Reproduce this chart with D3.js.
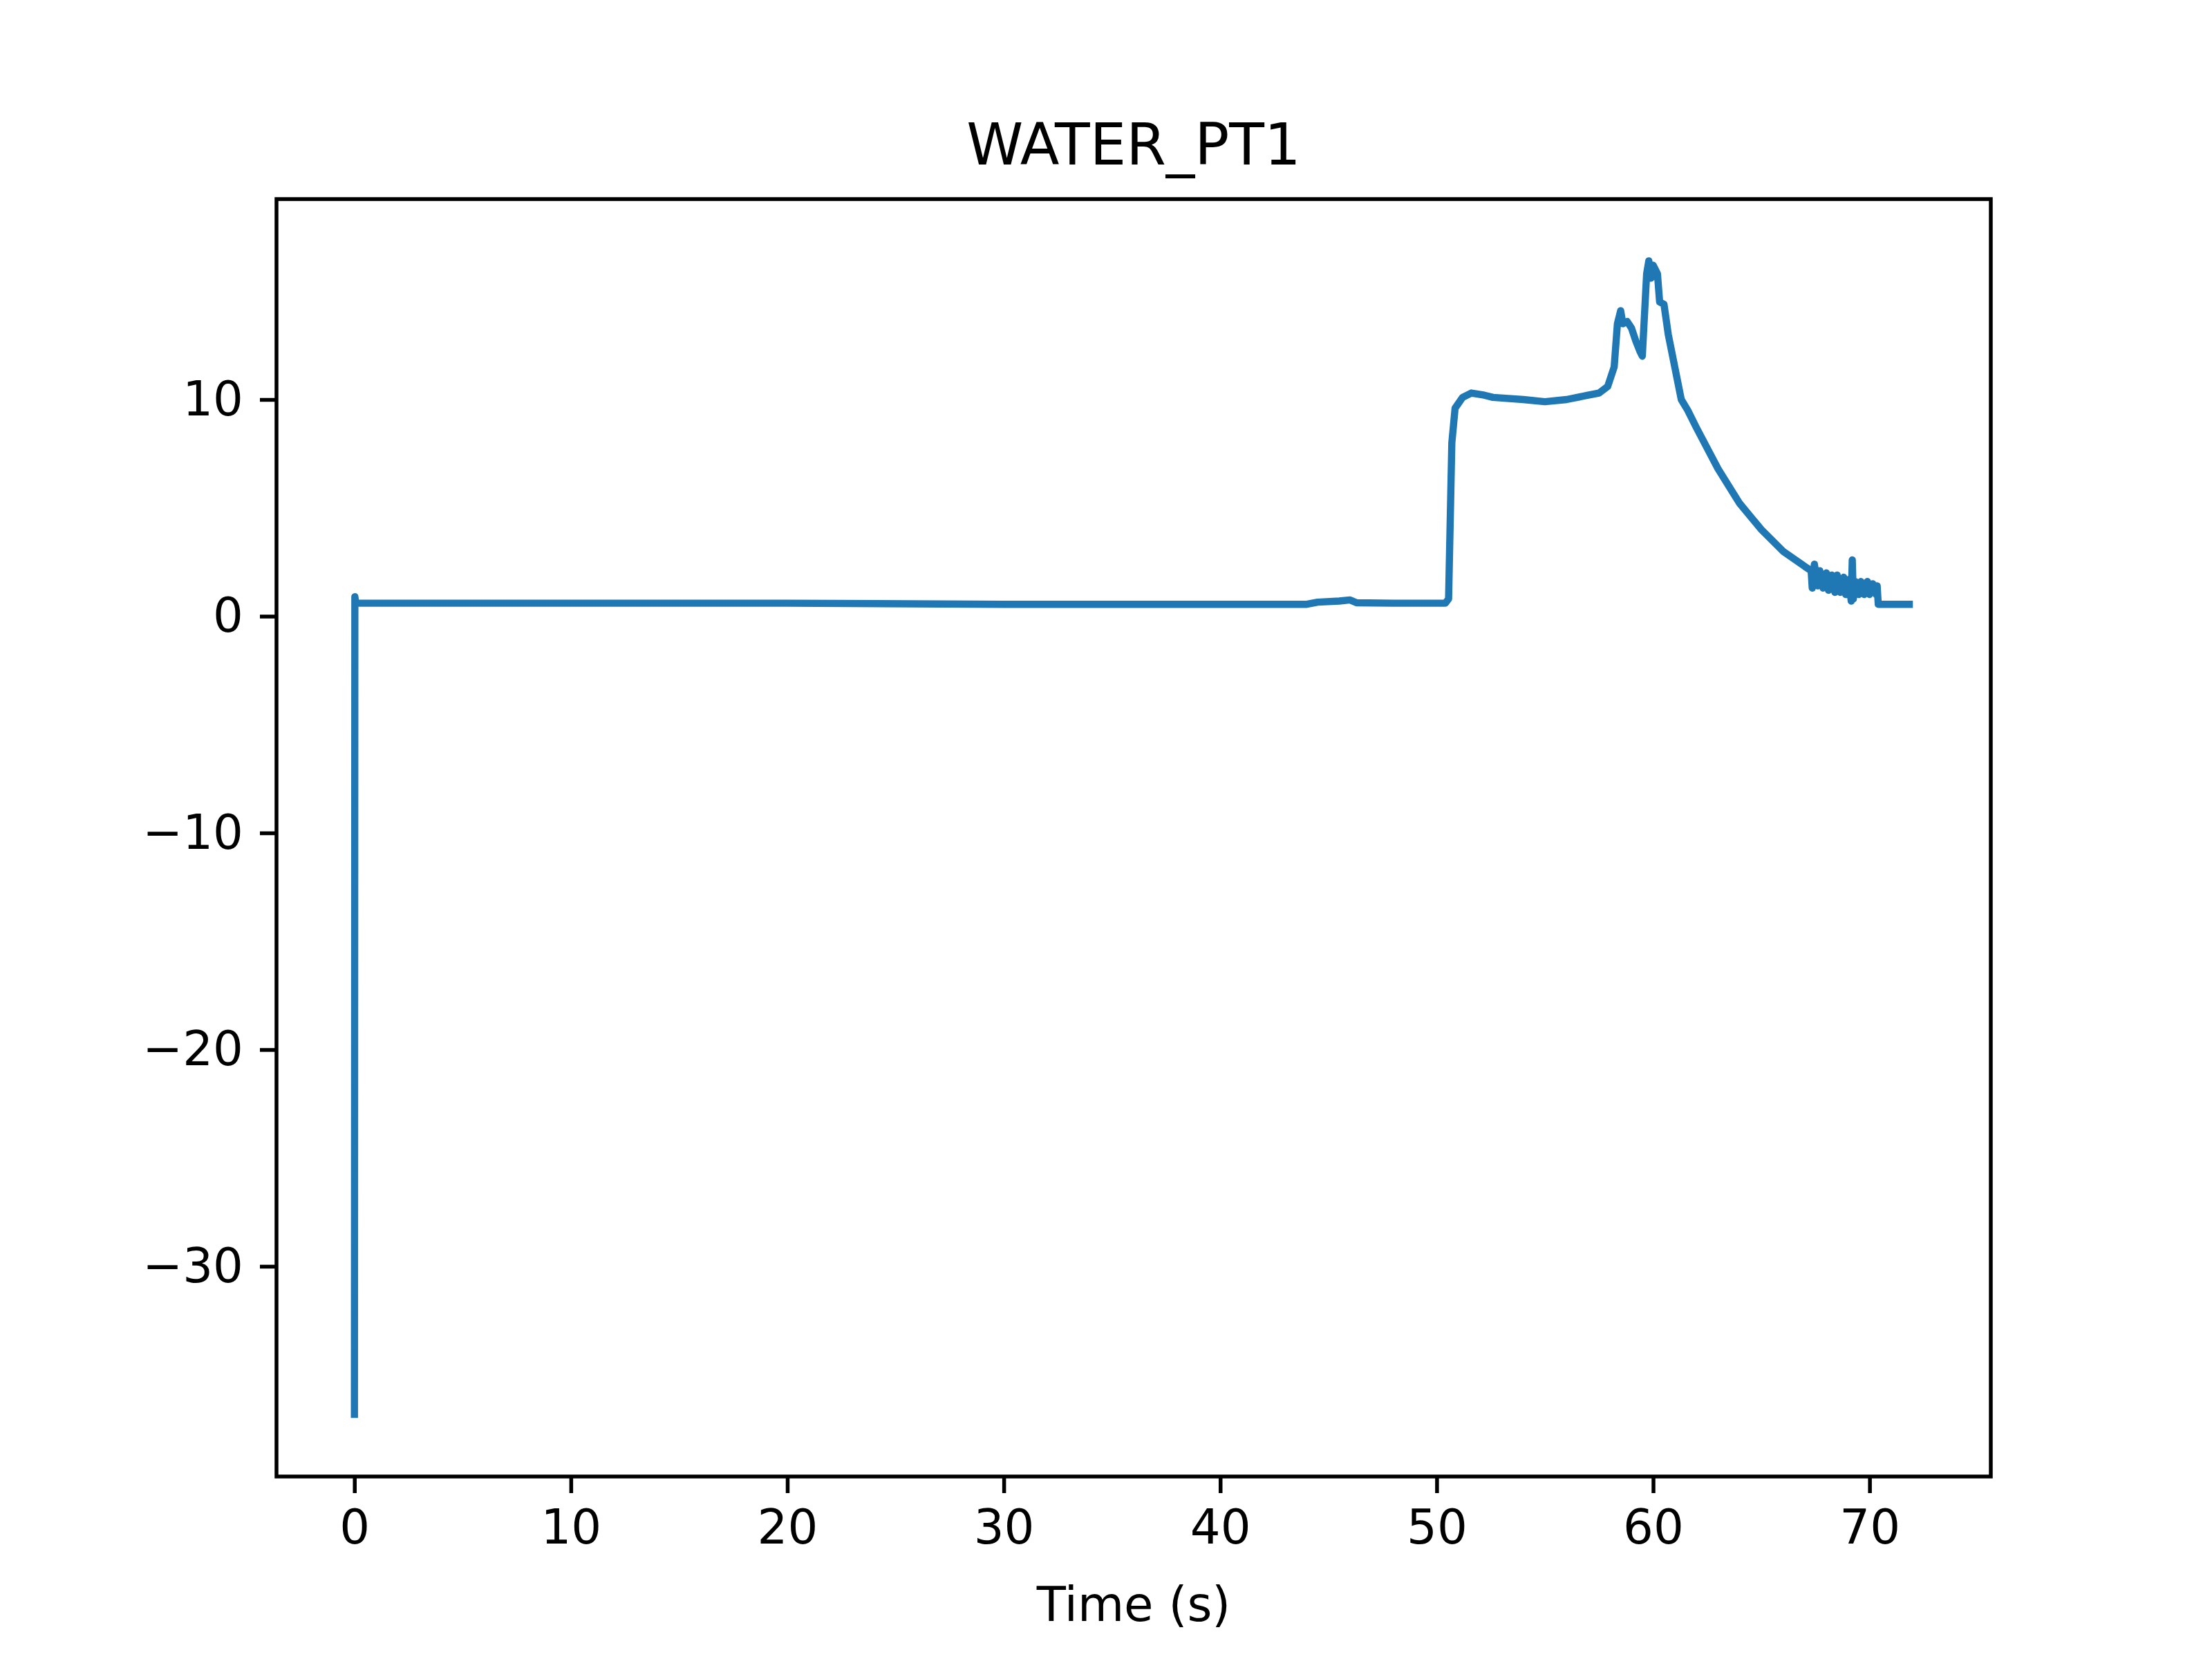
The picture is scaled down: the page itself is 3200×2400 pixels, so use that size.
<!DOCTYPE html>
<html><head><meta charset="utf-8">
<script src="https://cdn.jsdelivr.net/npm/d3@7"></script>
<style>body{margin:0;background:#fff}text{font-family:"DejaVu Sans",sans-serif}</style>
</head><body>
<script>
// time (s) and WATER_PT1 reading
var times = [0, 0.02, 0.06, 10, 20, 30, 40, 44, 44.5, 45.5, 46, 46.3, 48, 50.4, 50.55, 50.7, 50.85, 51.2, 51.6, 52.2, 52.6, 54, 55, 56, 57, 57.5, 57.9, 58.2, 58.35, 58.5, 58.6, 58.8, 59, 59.2, 59.4, 59.5, 59.7, 59.8, 59.9, 60.0, 60.2, 60.3, 60.5, 60.7, 61, 61.3, 61.6, 62, 63, 64, 65, 66, 67, 67.3,
  67.35, 67.45, 67.6, 67.7, 67.85, 68, 68.1, 68.25, 68.4, 68.5, 68.65, 68.8, 68.9, 69.05, 69.15, 69.2, 69.25, 69.35, 69.5, 69.6, 69.75, 69.9, 70.0, 70.15, 70.3, 70.35, 70.4, 72];
var values = [-37, 0.9, 0.6, 0.6, 0.6, 0.55, 0.55, 0.55, 0.65, 0.7, 0.75, 0.62, 0.6, 0.6, 0.8, 8, 9.6, 10.1, 10.3, 10.2, 10.1, 10.0, 9.9, 10.0, 10.2, 10.3, 10.6, 11.5, 13.5, 14.1, 13.5, 13.6, 13.3, 12.7, 12.2, 12.0, 15.8, 16.4, 15.6, 16.2, 15.8, 14.5, 14.4, 13.0, 11.5, 10.0, 9.5, 8.7, 6.8, 5.2, 4.0, 3.0, 2.3, 2.1,
  1.3, 2.4, 1.4, 2.1, 1.3, 2.0, 1.2, 1.9, 1.1, 1.9, 1.1, 1.8, 1.0, 1.7, 0.7, 2.6, 0.8, 1.6, 1.0, 1.6, 1.0, 1.6, 1.0, 1.5, 1.0, 1.4, 0.55, 0.55];
var xTicks = [0, 10, 20, 30, 40, 50, 60, 70];
var yTicks = [-30, -20, -10, 0, 10];

var W = 3200, H = 2400, L = 400, R = 2880, T = 288, B = 2136;
var svg = d3.select("body").append("svg").attr("width", W).attr("height", H);
var x = d3.scaleLinear().domain([-3.6, 75.6]).range([L, R]);
var y = d3.scaleLinear().domain([-39.7, 19.25]).range([B, T]);

svg.append("path")
    .datum(d3.zip(times, values))
    .attr("fill", "none")
    .attr("stroke", "#1f77b4")
    .attr("stroke-width", 10.4)
    .attr("stroke-linejoin", "round")
    .attr("d", d3.line().x(function (d) { return x(d[0]); }).y(function (d) { return y(d[1]); }));

var fmt = function (d) { return d < 0 ? "\u2212" + Math.abs(d) : d; };
var gx = svg.append("g").attr("transform", "translate(0," + B + ")")
    .call(d3.axisBottom(x).tickValues(xTicks).tickSize(24).tickPadding(24).tickFormat(fmt));
var gy = svg.append("g").attr("transform", "translate(" + L + ",0)")
    .call(d3.axisLeft(y).tickValues(yTicks).tickSize(24).tickPadding(24).tickFormat(fmt));
[gx, gy].forEach(function (g) {
    g.select(".domain").remove();
    g.selectAll("line").attr("stroke", "#000").attr("stroke-width", 5.5);
    g.selectAll("text").attr("font-size", 69).attr("fill", "#000").style("font-family", "DejaVu Sans");
});
svg.append("rect").attr("x", L).attr("y", T).attr("width", R - L).attr("height", B - T)
    .attr("fill", "none").attr("stroke", "#000").attr("stroke-width", 5.5);

svg.append("text").attr("x", (L + R) / 2).attr("y", 2345).attr("text-anchor", "middle")
    .attr("font-size", 69).text("Time (s)");
svg.append("text").attr("x", (L + R) / 2).attr("y", 238).attr("text-anchor", "middle")
    .attr("font-size", 83).text("WATER_PT1");
</script>
</body></html>
